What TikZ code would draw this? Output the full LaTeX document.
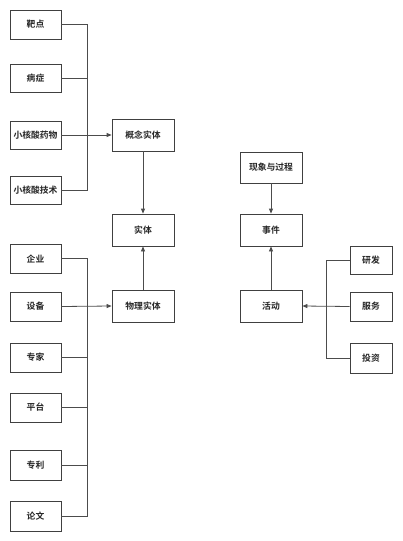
\documentclass[tikz,border=0pt]{standalone}
\usepackage{fontspec}
\setmainfont{Noto Sans CJK SC}[BoldFont={Noto Sans CJK SC Bold}]
\usetikzlibrary{arrows.meta}
\begin{document}
\begin{tikzpicture}[x=1pt,y=-1pt,
  box/.style={draw=black!75,line width=0.8pt,fill=white,inner sep=0pt,text=black!85,font=\fontsize{8.8}{10}\selectfont\bfseries},
  conn/.style={draw=black!70,line width=0.8pt},
  arr/.style={conn,-{Triangle[length=5pt,width=4pt]}}]
\useasboundingbox (0,0) rectangle (402,541);
% boxes: (x1,y1) to (x2,y2)
\newcommand{\mybox}[6]{\node[box,minimum width=#3 pt-#1 pt,minimum height=#4 pt-#2 pt] (#5) at ({(#1+#3)/2},{(#2+#4)/2}) {#6};}
\mybox{10}{10}{61}{39}{a1}{靶点}
\mybox{10}{64}{61}{92}{a2}{病症}
\mybox{10}{121}{61}{149}{a3}{小核酸药物}
\mybox{10}{176}{61}{204}{a4}{小核酸技术}
\mybox{112}{119}{174}{151}{gn}{概念实体}
\mybox{112}{214}{174}{246}{st}{实体}
\mybox{112}{290}{174}{322}{wl}{物理实体}
\mybox{240}{152}{302}{183}{xx}{现象与过程}
\mybox{240}{214}{302}{246}{sj}{事件}
\mybox{240}{290}{302}{322}{hd}{活动}
\mybox{350}{246}{392}{274}{r1}{研发}
\mybox{350}{292}{392}{321}{r2}{服务}
\mybox{350}{343}{392}{373}{r3}{投资}
\mybox{10}{244}{61}{273}{b1}{企业}
\mybox{10}{292}{61}{321}{b2}{设备}
\mybox{10}{343}{61}{372}{b3}{专家}
\mybox{10}{393}{61}{422}{b4}{平台}
\mybox{10}{450}{61}{480}{b5}{专利}
\mybox{10}{501}{61}{531}{b6}{论文}
% upper-left bus
\coordinate (ub1) at (87,24.5);
\coordinate (ub4) at (87,190);
\draw[conn] (a1.east) -- (ub1) -- (ub4) -- (a4.east);
\draw[conn] (a2.east) -- (a2.east -| ub1);
\draw[arr] (a3.east) -- (gn.west);
% lower-left bus
\coordinate (lb1) at (87,258.5);
\coordinate (lb6) at (87,516);
\draw[conn] (b1.east) -- (lb1) -- (lb6) -- (b6.east);
\draw[conn] (b3.east) -- (b3.east -| lb1);
\draw[conn] (b4.east) -- (b4.east -| lb1);
\draw[conn] (b5.east) -- (b5.east -| lb1);
\draw[arr] (b2.east) -- (wl.west);
% right bus
\coordinate (rb1) at (326,260);
\coordinate (rb3) at (326,358);
\draw[conn] (r1.west) -- (rb1) -- (rb3) -- (r3.west);
\draw[arr] (r2.west) -- (hd.east);
% vertical
\draw[arr] (gn.south) -- (st.north);
\draw[arr] (wl.north) -- (st.south);
\draw[arr] (xx.south) -- (sj.north);
\draw[arr] (hd.north) -- (sj.south);
\end{tikzpicture}
\end{document}
